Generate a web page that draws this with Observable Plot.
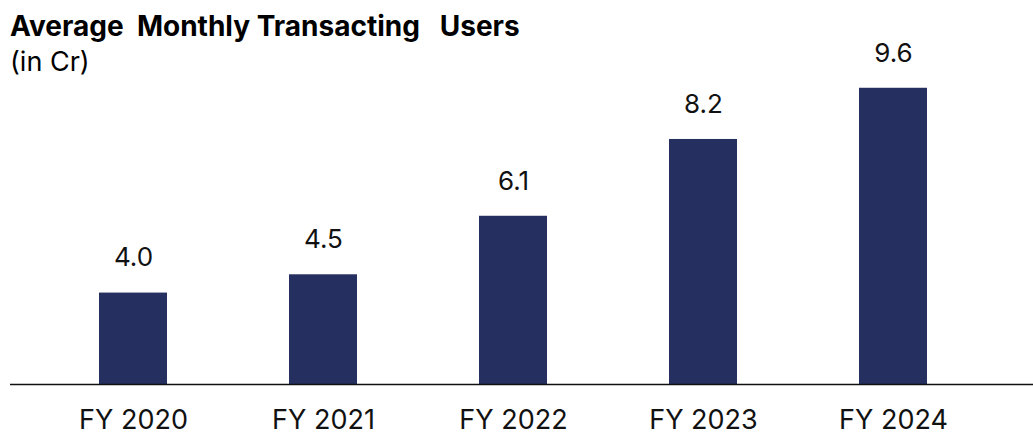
<!DOCTYPE html>
<html>
<head>
<meta charset="utf-8">
<script src="https://cdn.jsdelivr.net/npm/d3@7"></script>
<script src="https://cdn.jsdelivr.net/npm/@observablehq/plot@0.6"></script>
<style>
  html, body { margin: 0; padding: 0; background: #fff; }
  #wrap { position: relative; width: 1033px; height: 432px; overflow: hidden; font-family: Inter, "Noto Sans", sans-serif; }
  #title { position: absolute; left: 10px; top: 11px; font-size: 28px; font-weight: 700; color: #000; letter-spacing: 0px; white-space: pre; line-height: 30px; }
  #subtitle { position: absolute; left: 10px; top: 47px; font-size: 27px; font-weight: 400; color: #000; white-space: pre; line-height: 30px; }
</style>
</head>
<body>
<div id="wrap">
  <div id="chart"></div>
  <div id="title">Average  Monthly Transacting   Users</div>
  <div id="subtitle">(in Cr)</div>
</div>
<script>
const categories = ["FY 2020", "FY 2021", "FY 2022", "FY 2023", "FY 2024"];
const values = [4.0, 4.5, 6.1, 8.2, 9.6];
const labels = ["4.0", "4.5", "6.1", "8.2", "9.6"];
const yBase = 1.5;
const yTop = 12;

const data = categories.map((c, i) => ({ category: c, value: values[i], label: labels[i] }));

const chart = Plot.plot({
  width: 1033,
  height: 432,
  marginTop: 0,
  marginBottom: 48,
  marginLeft: 10,
  marginRight: 0,
  style: { fontFamily: "Inter, 'Noto Sans', sans-serif", background: "transparent" },
  x: { domain: categories, paddingInner: 0.64, paddingOuter: 0.505, align: 0.457, axis: null },
  y: { domain: [yBase, yTop], axis: null },
  marks: [
    Plot.barY(data, { x: "category", y1: yBase, y2: "value", fill: "#253060" }),
    Plot.ruleY([yBase], { stroke: "#111", strokeWidth: 1.5 }),
    Plot.text(data, { x: "category", y: "value", text: "label", dy: -35, fontSize: 26, fill: "#111" }),
    Plot.text(data, { x: "category", y: yBase, text: "category", dy: 35.5, fontSize: 27, fill: "#111" })
  ]
});
document.getElementById("chart").appendChild(chart);
</script>
</body>
</html>
